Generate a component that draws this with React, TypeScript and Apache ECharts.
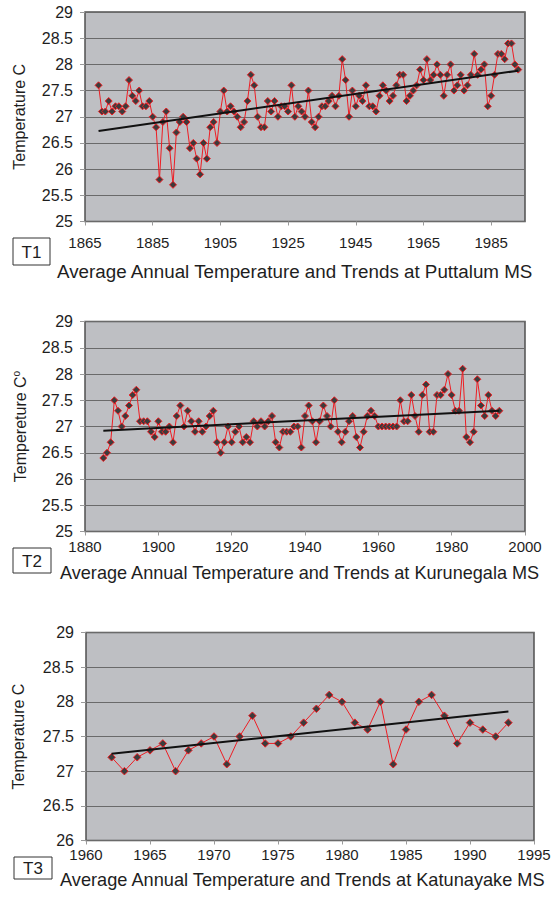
import React, { useEffect, useRef } from "react";
import * as echarts from "echarts";

// ---------- Data ----------
// T1: Puttalum MS, annual mean temperature, 1869-1993
const t1StartYear = 1869;
const t1Values = [
  27.6, 27.1, 27.1, 27.3, 27.1, 27.2, 27.2, 27.1, 27.2, 27.7, // 1869-1878
  27.4, 27.3, 27.5, 27.2, 27.2, 27.3, 27.0, 26.8, 25.8, 26.9, // 1879-1888
  27.1, 26.4, 25.7, 26.7, 26.9, 27.0, 26.9, 26.4, 26.5, 26.2, // 1889-1898
  25.9, 26.5, 26.2, 26.8, 26.9, 26.5, 27.1, 27.5, 27.1, 27.2, // 1899-1908
  27.1, 27.0, 26.8, 26.9, 27.3, 27.8, 27.6, 27.0, 26.8, 26.8, // 1909-1918
  27.3, 27.1, 27.3, 27.0, 27.2, 27.2, 27.1, 27.6, 27.0, 27.2, // 1919-1928
  27.1, 27.0, 27.5, 26.9, 26.8, 27.0, 27.2, 27.2, 27.3, 27.4, // 1929-1938
  27.2, 27.4, 28.1, 27.7, 27.0, 27.5, 27.2, 27.4, 27.3, 27.6, // 1939-1948
  27.2, 27.2, 27.1, 27.4, 27.6, 27.5, 27.3, 27.4, 27.6, 27.8, // 1949-1958
  27.8, 27.3, 27.4, 27.5, 27.6, 27.9, 27.7, 28.1, 27.7, 27.8, // 1959-1968
  28.0, 27.8, 27.4, 27.8, 28.0, 27.5, 27.6, 27.8, 27.5, 27.6, // 1969-1978
  27.8, 28.2, 27.8, 27.9, 28.0, 27.2, 27.4, 27.8, 28.2, 28.2, // 1979-1988
  28.1, 28.4, 28.4, 28.0, 27.9, // 1989-1993
];
const t1TrendYears = [1869, 1993];
const t1TrendValues = [26.73, 27.88];

// T2: Kurunegala MS, 1885-1993
const t2StartYear = 1885;
const t2Values = [
  26.4, 26.5, 26.7, 27.5, 27.3, 27.0, 27.2, 27.4, 27.6, 27.7, // 1885-1894
  27.1, 27.1, 27.1, 26.9, 26.8, 27.1, 26.9, 26.9, 27.0, 26.7, // 1895-1904
  27.2, 27.4, 27.0, 27.3, 27.1, 26.9, 27.1, 26.9, 27.0, 27.2, // 1905-1914
  27.3, 26.7, 26.5, 26.7, 27.0, 26.7, 26.9, 27.0, 26.7, 26.8, // 1915-1924
  26.7, 27.1, 27.0, 27.1, 27.0, 27.1, 27.2, 26.7, 26.6, 26.9, // 1925-1934
  26.9, 26.9, 27.0, 27.0, 26.6, 27.2, 27.4, 27.1, 26.7, 27.1, // 1935-1944
  27.4, 27.2, 27.0, 27.5, 26.9, 26.7, 26.9, 27.1, 27.2, 26.8, // 1945-1954
  26.6, 26.9, 27.2, 27.3, 27.2, 27.0, 27.0, 27.0, 27.0, 27.0, // 1955-1964
  27.0, 27.5, 27.1, 27.1, 27.6, 27.2, 26.9, 27.6, 27.8, 26.9, // 1965-1974
  26.9, 27.6, 27.6, 27.7, 28.0, 27.6, 27.3, 27.3, 28.1, 26.8, // 1975-1984
  26.7, 26.9, 27.9, 27.4, 27.2, 27.6, 27.3, 27.2, 27.3, // 1985-1993
];
const t2TrendYears = [1885, 1993];
const t2TrendValues = [26.92, 27.3];

// T3: Katunayake MS, 1962-1993
const t3StartYear = 1962;
const t3Values = [
  27.2, 27.0, 27.2, 27.3, 27.4, 27.0, 27.3, 27.4, 27.5, 27.1, // 1962-1971
  27.5, 27.8, 27.4, 27.4, 27.5, 27.7, 27.9, 28.1, 28.0, 27.7, // 1972-1981
  27.6, 28.0, 27.1, 27.6, 28.0, 28.1, 27.8, 27.4, 27.7, 27.6, // 1982-1991
  27.5, 27.7, // 1992-1993
];
const t3TrendYears = [1962, 1993];
const t3TrendValues = [27.25, 27.86];

// Axis ranges / tick steps
const t1XAxis = { min: 1865, max: 1995, step: 20 };
const t2XAxis = { min: 1880, max: 2000, step: 20 };
const t3XAxis = { min: 1960, max: 1995, step: 5 };
const t12YAxis = { min: 25, max: 29, step: 0.5 };
const t3YAxis = { min: 26, max: 29, step: 0.5 };

const yNames = ["Temperature C", "{a|Tempereture C}{s|o}", "Temperature C"];
const chartTitles = [
  "Average Annual Temperature and Trends at Puttalum MS",
  "Average Annual Temperature and Trends at Kurunegala MS",
  "Average Annual Temperature and Trends at Katunayake MS",
];
const panelTags = ["T1", "T2", "T3"];

// ---------- Helpers ----------
const FONT = "'Liberation Sans', Arial, Helvetica, sans-serif";
const TEXT = "#1e1e1e";
const RED = "#ee1d23";

const pairs = (start: number, vals: number[]) => vals.map((v, i) => [start + i, v]);
const zip = (xs: number[], ys: number[]) => xs.map((x, i) => [x, ys[i]]);

export default function App() {
  const ref = useRef<HTMLDivElement>(null);

  useEffect(() => {
    if (!ref.current) return;
    const chart = echarts.init(ref.current, undefined, { renderer: "svg" });

    const grids = [
      { left: 85, top: 12, width: 440, height: 209.5 },
      { left: 85, top: 321.5, width: 440, height: 210 },
      { left: 86, top: 632.5, width: 448, height: 208 },
    ].map((g) => ({
      ...g,
      show: true,
      backgroundColor: "#bebfc3",
      borderColor: "#505050",
      borderWidth: 1.5,
      containLabel: false,
      outerBoundsMode: "none",
    }));

    const xCfg = [t1XAxis, t2XAxis, t3XAxis];
    const xMargins = [13, 7, 6];
    const xAxis = xCfg.map((c, i) => ({
      type: "value",
      gridIndex: i,
      min: c.min,
      max: c.max,
      interval: c.step,
      axisLine: { show: false },
      axisTick: { show: true, inside: false, length: 4, lineStyle: { color: "#9a9a9a" } },
      splitLine: { show: false },
      axisLabel: {
        fontSize: 15,
        color: TEXT,
        fontFamily: FONT,
        margin: xMargins[i],
        showMaxLabel: i !== 0,
        showMinLabel: true,
        formatter: (v: number) => String(v),
      },
    }));

    const yCfg = [t12YAxis, t12YAxis, t3YAxis];
    const nameGaps = [58, 56, 60];
    const yAxis = yCfg.map((c, i) => ({
      type: "value",
      gridIndex: i,
      min: c.min,
      max: c.max,
      interval: c.step,
      name: yNames[i],
      nameLocation: "middle",
      nameGap: nameGaps[i],
      nameTextStyle: {
        fontSize: 16,
        color: TEXT,
        fontFamily: FONT,
        rich: {
          a: { fontSize: 16, color: TEXT, fontFamily: FONT, lineHeight: 18 },
          s: { fontSize: 10, color: TEXT, fontFamily: FONT, lineHeight: 18, verticalAlign: "top" },
        },
      },
      axisLine: { show: false },
      axisTick: { show: true, inside: false, length: 5, lineStyle: { color: "#9a9a9a" } },
      splitLine: { show: true, lineStyle: { color: "#6a6a6a", width: 1.2 } },
      axisLabel: { fontSize: 16, color: TEXT, fontFamily: FONT, margin: 12 },
    }));

    const dataSets = [
      pairs(t1StartYear, t1Values),
      pairs(t2StartYear, t2Values),
      pairs(t3StartYear, t3Values),
    ];
    const trends = [
      zip(t1TrendYears, t1TrendValues),
      zip(t2TrendYears, t2TrendValues),
      zip(t3TrendYears, t3TrendValues),
    ];

    const series: any[] = [];
    dataSets.forEach((d, i) => {
      series.push({
        type: "line",
        xAxisIndex: i,
        yAxisIndex: i,
        data: d,
        symbol: "diamond",
        symbolSize: i === 2 ? 7.5 : 7,
        showAllSymbol: true,
        lineStyle: { color: RED, width: 1 },
        itemStyle: { color: "#3c3c3c", borderColor: RED, borderWidth: 1 },
        z: 2,
      });
      series.push({
        type: "line",
        xAxisIndex: i,
        yAxisIndex: i,
        data: trends[i],
        symbol: "none",
        lineStyle: { color: "#111", width: 2 },
        z: 3,
      });
    });

    const titleTops = [262, 564, 871];
    const titleLefts = [57, 60, 60];
    const titleSizes = [18.8, 18.1, 18.2];
    const title = chartTitles.map((t, i) => ({
      text: t,
      left: titleLefts[i],
      top: titleTops[i],
      padding: 0,
      textStyle: { fontSize: titleSizes[i], fontWeight: "normal", color: TEXT, fontFamily: FONT },
    }));

    const boxes = [
      { x: 13, y: 238, w: 37, h: 27 },
      { x: 13, y: 548, w: 38, h: 25 },
      { x: 14, y: 857, w: 38, h: 22 },
    ];
    const graphic: any[] = [];
    boxes.forEach((b, i) => {
      graphic.push({
        type: "rect",
        shape: { x: b.x, y: b.y, width: b.w, height: b.h },
        style: { fill: "#fff", stroke: "#333", lineWidth: 1 },
      });
      graphic.push({
        type: "text",
        x: b.x + b.w / 2,
        y: b.y + b.h / 2 + 0.5,
        style: {
          text: panelTags[i],
          fontSize: 17,
          fontFamily: FONT,
          fill: TEXT,
          align: "center",
          verticalAlign: "middle",
        },
      });
    });

    chart.setOption({
      animation: false,
      backgroundColor: "#ffffff",
      textStyle: { fontFamily: FONT },
      title,
      grid: grids,
      xAxis,
      yAxis,
      series,
      graphic,
    });

    return () => chart.dispose();
  }, []);

  return (
    <div
      ref={ref}
      style={{ position: "absolute", left: 0, top: 0, width: 556, height: 902, background: "#fff" }}
    />
  );
}
